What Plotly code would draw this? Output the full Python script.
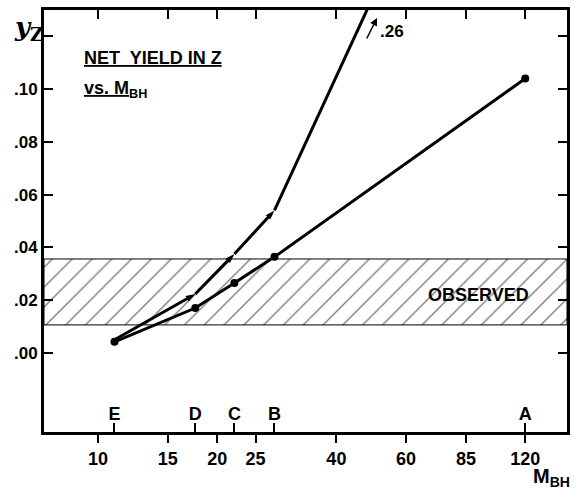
import math
import plotly.graph_objects as go

# ---- data ----
mass_ticks = [10, 15, 20, 25, 40, 60, 85, 120]
model_labels = ["E", "D", "C", "B", "A"]
model_mass = [11, 17.6, 22.1, 27.9, 120]
yield_circle = [0.0042, 0.017, 0.0265, 0.0364, 0.104]
yield_arrow = [0.005, 0.0223, 0.0375, 0.054, 0.26]
observed_low = 0.0106
observed_high = 0.0356
y_ticks = [0.00, 0.02, 0.04, 0.06, 0.08, 0.10, 0.12]
y_ticktext = [".00", ".02", ".04", ".06", ".08", ".10", ""]
x_range = [7.3, 153]
y_range = [-0.03, 0.13]

W, H = 574, 494
L, R, T, B = 44, 567, 10, 432


def P(px, py):
    return (px - L) / (R - L), (B - py) / (B - T)


NARROW = "Liberation Sans Narrow, Liberation Sans, Arial, sans-serif"
SANS = "Liberation Sans, Arial, sans-serif"

fig = go.Figure()

# observed band (hatched)
fig.add_trace(go.Scatter(
    x=[x_range[0], x_range[1], x_range[1], x_range[0], x_range[0]],
    y=[observed_low, observed_low, observed_high, observed_high, observed_low],
    mode="lines", fill="toself", fillcolor="white",
    fillpattern=dict(shape="/", size=14, solidity=0.1, fgcolor="black", bgcolor="white"),
    line=dict(color="black", width=1), hoverinfo="skip", showlegend=False,
))

fig.add_trace(go.Scatter(
    x=model_mass, y=yield_arrow, mode="lines+markers",
    line=dict(color="black", width=3),
    marker=dict(symbol="arrow", size=10, color="black", angleref="previous",
                line=dict(width=0)),
    showlegend=False,
))
fig.add_trace(go.Scatter(
    x=model_mass, y=yield_circle, mode="lines+markers",
    line=dict(color="black", width=3),
    marker=dict(symbol="circle", size=8, color="black", line=dict(width=0)),
    showlegend=False,
))

# dummy traces so overlay axes render
fig.add_trace(go.Scatter(x=[model_mass[0]], y=[y_range[0] - 1], xaxis="x2", yaxis="y",
                         mode="markers", marker=dict(opacity=0), showlegend=False, hoverinfo="skip"))
fig.add_trace(go.Scatter(x=[model_mass[0]], y=[y_range[0] - 1], xaxis="x3", yaxis="y2",
                         mode="markers", marker=dict(opacity=0), showlegend=False, hoverinfo="skip"))

lx = [math.log10(v) for v in x_range]
axis_common = dict(showgrid=False, zeroline=False, linecolor="black", linewidth=3,
                   tickcolor="black", tickwidth=2)

fig.update_layout(
    width=W, height=H,
    margin=dict(l=L, r=W - R, t=T, b=H - B),
    paper_bgcolor="white", plot_bgcolor="white",
    xaxis=dict(type="log", range=lx, tickvals=mass_ticks, ticktext=[str(v) for v in mass_ticks],
               ticks="outside", ticklen=8, showline=True,
               tickfont=dict(family=NARROW, size=18, color="black", weight="bold"),
               **axis_common),
    xaxis2=dict(type="log", range=lx, overlaying="x", side="bottom", anchor="y",
                tickvals=model_mass, ticktext=model_labels, ticks="inside", ticklen=9,
                ticklabelposition="inside", showline=False,
                tickfont=dict(family=SANS, size=18, color="black", weight="bold"),
                **axis_common),
    xaxis3=dict(type="log", range=lx, overlaying="x", side="top", anchor="y2",
                tickvals=mass_ticks, ticks="inside", ticklen=9, showticklabels=False,
                showline=True, **axis_common),
    yaxis=dict(range=y_range, tickvals=y_ticks, ticktext=y_ticktext, ticks="inside", ticklen=9,
               showline=True,
               tickfont=dict(family=NARROW, size=17, color="black", weight="bold"),
               **axis_common),
    yaxis2=dict(range=y_range, overlaying="y", side="right", anchor="x3", tickvals=y_ticks,
                ticks="inside", ticklen=9, showticklabels=False, showline=True, **axis_common),
)

ann = []


def text(px, py, s, size, family=SANS, xanchor="center", yanchor="middle"):
    x, y = P(px, py)
    ann.append(dict(x=x, y=y, xref="paper", yref="paper", text=s, showarrow=False,
                    xanchor=xanchor, yanchor=yanchor,
                    font=dict(family=family, size=size, color="black", weight="bold")))


text(82, 58, "<u>NET  YIELD IN Z</u>", 18, xanchor="left")
text(82, 89, "<u>vs. M</u><sub>BH</sub>", 18, xanchor="left")
text(478, 295, "OBSERVED", 18)
text(378, 32, ".26", 17, xanchor="left")
text(12, 28, "<i>y</i><sub>Z</sub>", 26, family="DejaVu Serif, serif", xanchor="left")
text(572, 492, "M<sub>BH</sub>", 20, xanchor="right", yanchor="bottom")

hx, hy = P(377, 18)
ann.append(dict(x=hx, y=hy, xref="paper", yref="paper", ax=-11, ay=22, text="",
                showarrow=True, arrowhead=2, arrowsize=1, arrowwidth=1.5, arrowcolor="black"))
fig.update_layout(annotations=ann)

fig.write_html("out.html")
